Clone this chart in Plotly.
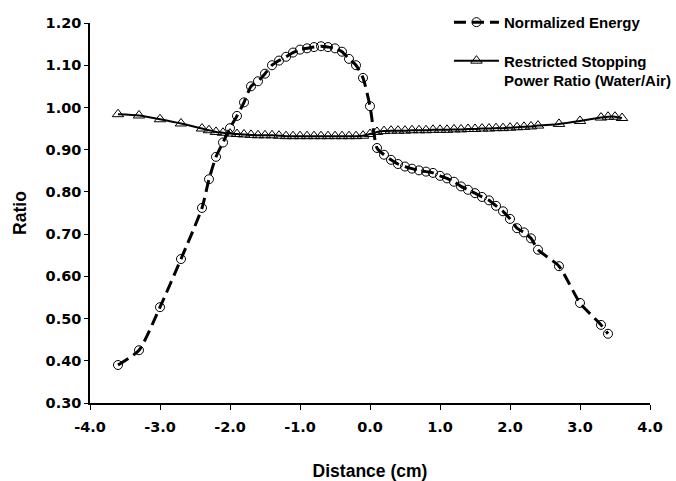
import plotly.graph_objects as go

# Normalized Energy
energy_x = [-3.6, -3.3, -3.0, -2.7, -2.4, -2.3, -2.2, -2.1, -2.0, -1.9, -1.8, -1.7, -1.6, -1.5,
            -1.4, -1.3, -1.2, -1.1, -1.0, -0.9, -0.8, -0.7, -0.6, -0.5, -0.4, -0.3, -0.2, -0.1,
            0.0, 0.1, 0.2, 0.3, 0.4, 0.5, 0.6, 0.7, 0.8, 0.9, 1.0, 1.1, 1.2, 1.3, 1.4, 1.5,
            1.6, 1.7, 1.8, 1.9, 2.0, 2.1, 2.2, 2.3, 2.4, 2.7, 3.0, 3.3, 3.4]
energy_y = [0.390, 0.425, 0.527, 0.641, 0.762, 0.830, 0.883, 0.917, 0.951, 0.980, 1.012, 1.050,
            1.062, 1.080, 1.100, 1.111, 1.120, 1.130, 1.137, 1.140, 1.143, 1.145, 1.143, 1.140,
            1.132, 1.115, 1.100, 1.070, 1.003, 0.904, 0.888, 0.876, 0.866, 0.860, 0.855, 0.851,
            0.848, 0.845, 0.838, 0.832, 0.824, 0.813, 0.805, 0.797, 0.788, 0.780, 0.767, 0.754,
            0.736, 0.714, 0.704, 0.690, 0.663, 0.624, 0.537, 0.485, 0.464]

# Restricted Stopping Power Ratio (Water/Air)
spr_x = [-3.6, -3.3, -3.0, -2.7, -2.4, -2.3, -2.2, -2.1, -2.0, -1.9, -1.8, -1.7, -1.6, -1.5,
         -1.4, -1.3, -1.2, -1.1, -1.0, -0.9, -0.8, -0.7, -0.6, -0.5, -0.4, -0.3, -0.2, -0.1,
         0.0, 0.1, 0.2, 0.3, 0.4, 0.5, 0.6, 0.7, 0.8, 0.9, 1.0, 1.1, 1.2, 1.3, 1.4, 1.5,
         1.6, 1.7, 1.8, 1.9, 2.0, 2.1, 2.2, 2.3, 2.4, 2.7, 3.0, 3.3, 3.4, 3.5, 3.6]
spr_y = [0.984, 0.981, 0.972, 0.962, 0.950, 0.946, 0.942, 0.940, 0.938, 0.937, 0.936, 0.935,
         0.934, 0.934, 0.934, 0.933, 0.932, 0.932, 0.932, 0.932, 0.932, 0.932, 0.932, 0.932,
         0.932, 0.932, 0.932, 0.933, 0.937, 0.942, 0.944, 0.945, 0.945, 0.945, 0.946, 0.946,
         0.946, 0.947, 0.947, 0.947, 0.948, 0.948, 0.949, 0.949, 0.950, 0.950, 0.951, 0.951,
         0.952, 0.953, 0.954, 0.955, 0.957, 0.961, 0.968, 0.976, 0.978, 0.978, 0.975]

x_tick_vals = [-4, -3, -2, -1, 0, 1, 2, 3, 4]
x_tick_labels = ["-4.0", "-3.0", "-2.0", "-1.0", "0.0", "1.0", "2.0", "3.0", "4.0"]
y_tick_vals = [0.3, 0.4, 0.5, 0.6, 0.7, 0.8, 0.9, 1.0, 1.1, 1.2]
y_tick_labels = ["0.30", "0.40", "0.50", "0.60", "0.70", "0.80", "0.90", "1.00", "1.10", "1.20"]

FONT = "Liberation Sans, Arial, sans-serif"
TICK_FONT = "DejaVu Sans, Liberation Sans, sans-serif"

fig = go.Figure()
fig.add_trace(go.Scatter(
    x=energy_x, y=energy_y, name="Normalized Energy", legendgroup="a",
    mode="lines+markers",
    line=dict(color="black", width=3, dash="12px,6px", shape="spline", smoothing=0.6),
    marker=dict(symbol="circle-open", size=9, color="black", line=dict(width=1, color="black")),
))
fig.add_trace(go.Scatter(
    x=spr_x, y=spr_y, name="Restricted Stopping<br>Power Ratio (Water/Air)", legendgroup="b",
    mode="lines+markers",
    line=dict(color="black", width=2, shape="spline", smoothing=0.6),
    marker=dict(symbol="triangle-up-open", size=10, color="black", line=dict(width=1, color="black")),
))

fig.update_layout(
    width=676, height=481,
    margin=dict(l=90, r=26, t=23, b=78, autoexpand=False),
    paper_bgcolor="white", plot_bgcolor="white",
    font=dict(family=FONT, color="black", size=14),
    showlegend=True,
    legend=dict(
        x=0.641, y=1.045, xanchor="left", yanchor="top",
        bgcolor="rgba(0,0,0,0)", font=dict(family=FONT, size=15, color="black", weight="bold"),
        itemwidth=45, tracegroupgap=16, valign="top", traceorder="grouped",
    ),
    xaxis=dict(
        range=[-4, 4], tickvals=x_tick_vals, ticktext=x_tick_labels, automargin=True,
        showgrid=False, zeroline=False, showline=True, linecolor="black", linewidth=1.5,
        ticks="outside", ticklen=5, tickwidth=1, tickcolor="black",
        tickfont=dict(family=TICK_FONT, size=14.5, weight="bold"),
        ticklabelstandoff=5,
        title=dict(text="Distance (cm)", font=dict(family=FONT, size=17.5, weight="bold"), standoff=31),
    ),
    yaxis=dict(
        range=[0.3, 1.2], tickvals=y_tick_vals, ticktext=y_tick_labels, automargin=False,
        showgrid=False, zeroline=False, showline=True, linecolor="black", linewidth=1.5,
        ticks="outside", ticklen=4, tickwidth=1, tickcolor="black",
        tickfont=dict(family=TICK_FONT, size=14.5, weight="bold"),
        ticklabelstandoff=0,
        title=dict(text="Ratio", font=dict(family=FONT, size=17.5, weight="bold"), standoff=14),
    ),
)

fig.write_html("out.html")
